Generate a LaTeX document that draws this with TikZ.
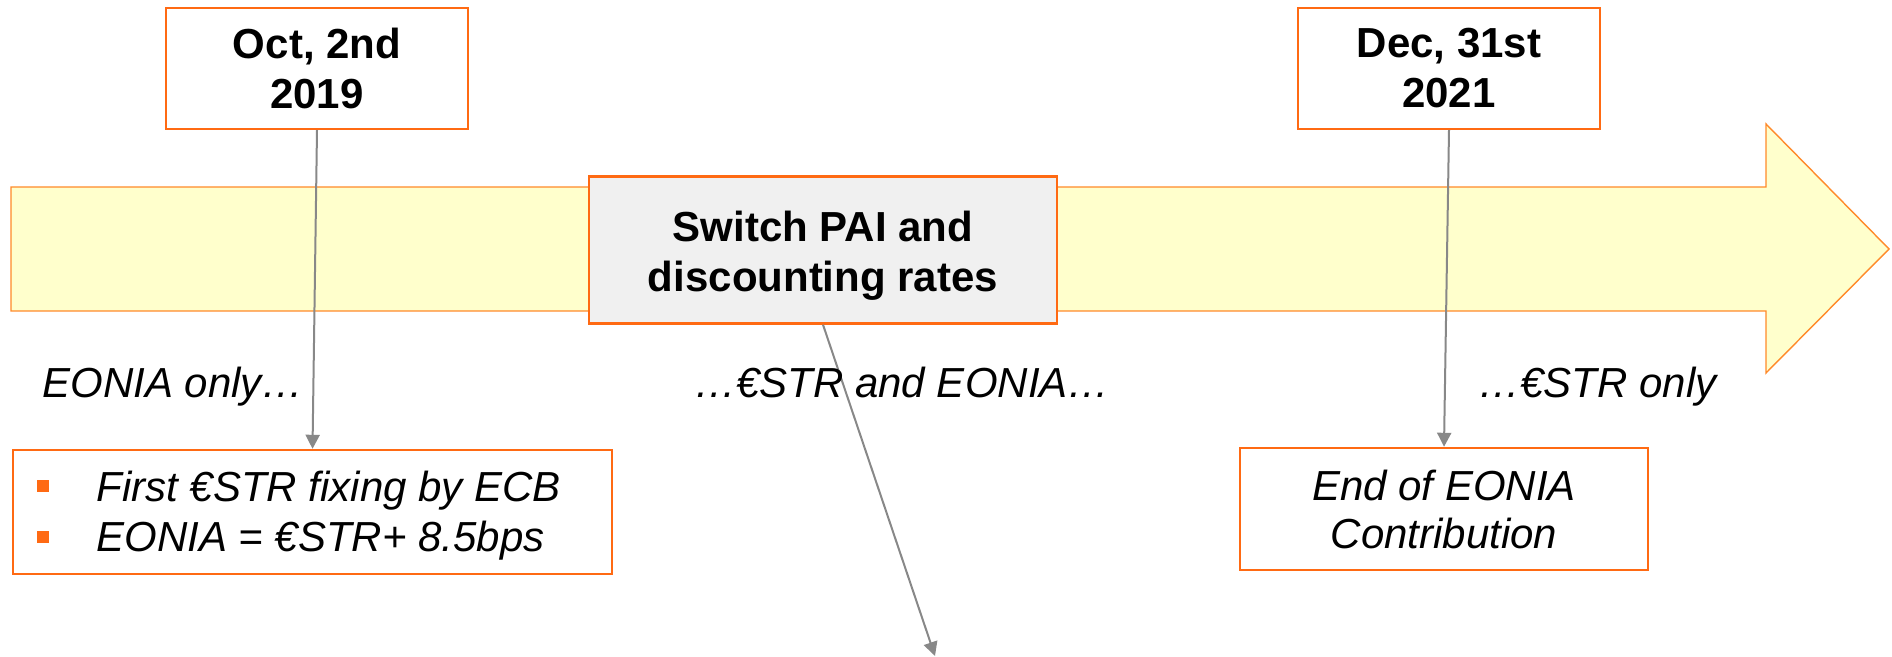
\documentclass[tikz,border=0pt]{standalone}
\usepackage{fontspec}
\setmainfont{Liberation Sans}
\usetikzlibrary{arrows.meta}
\definecolor{orng}{HTML}{FF6A13}
\definecolor{arrline}{HTML}{FF8A2A}
\definecolor{ylw}{HTML}{FFFFCC}
\definecolor{gry}{HTML}{888888}
\definecolor{lgry}{HTML}{F0F0F0}
\tikzset{
  datebox/.style={draw=orng, line width=1.2pt, fill=white, minimum width=151pt, minimum height=60.5pt,
    align=center, inner sep=0pt, font=\fontsize{21}{25}\selectfont\bfseries},
  switchbox/.style={draw=orng, line width=1.2pt, fill=lgry, minimum width=234pt, minimum height=73.5pt,
    inner sep=0pt},
  boldtxt/.style={align=center, inner sep=0pt, font=\fontsize{21}{25}\selectfont\bfseries},
  eventbox/.style={draw=orng, line width=1.2pt, fill=white, inner sep=0pt},
  lbl/.style={inner sep=0pt, font=\fontsize{21}{25}\selectfont\itshape},
  conn/.style={draw=gry, line width=1pt, -{Triangle[length=7pt,width=7pt]}},
  sqbullet/.style={fill=orng, draw=none, minimum size=6pt, inner sep=0pt}
}
\begin{document}
\begin{tikzpicture}[x=0.5pt,y=-0.5pt]
\useasboundingbox (0,0) rectangle (1892,657);
% big timeline arrow
\draw[arrline, line width=0.7pt, fill=ylw] (11,187) -- (1766,187) -- (1766,124) -- (1889,249)
  -- (1766,373) -- (1766,311) -- (11,311) -- cycle;

% boxes
\node[datebox] (oct) at (317,68.5) {Oct, 2nd\\2019};
\node[datebox] (dec) at (1449,68.5) {Dec, 31st\\2021};
\node[eventbox, minimum width=299.5pt, minimum height=62pt] (first) at (312.5,512) {};
\node[eventbox, minimum width=204pt, minimum height=61pt, align=center,
  font=\fontsize{21}{24}\selectfont\itshape] (endb) at (1444,509) {End of EONIA\\Contribution};

% connectors (drawn before the switch box so that it sits on top)
\coordinate (swend) at (935,656);
\draw[conn] (oct.south) -- (first.north);
\draw[conn] (dec.south) -- (endb.north);

\node[switchbox] (switch) at (823,250) {};
\node[boldtxt] (switchtxt) at (823,256) {Switch PAI and\\discounting rates};
\draw[conn] (switch.south) -- (swend);

% period labels
\node[lbl, anchor=base west] (l1) at (42,398) {EONIA only…};
\node[lbl, anchor=base] (l2) at (902,398) {…€STR and EONIA…};
\node[lbl, anchor=base west] (l3) at (1478,398) {…€STR only};

% bullet list
\node[sqbullet] (b1) at (43,486.5) {};
\node[sqbullet] (b2) at (43,537.5) {};
\node[lbl, anchor=base west] (t1) at (96,502) {First €STR fixing by ECB};
\node[lbl, anchor=base west] (t2) at (96,552) {EONIA = €STR+ 8.5bps};
\end{tikzpicture}
\end{document}
